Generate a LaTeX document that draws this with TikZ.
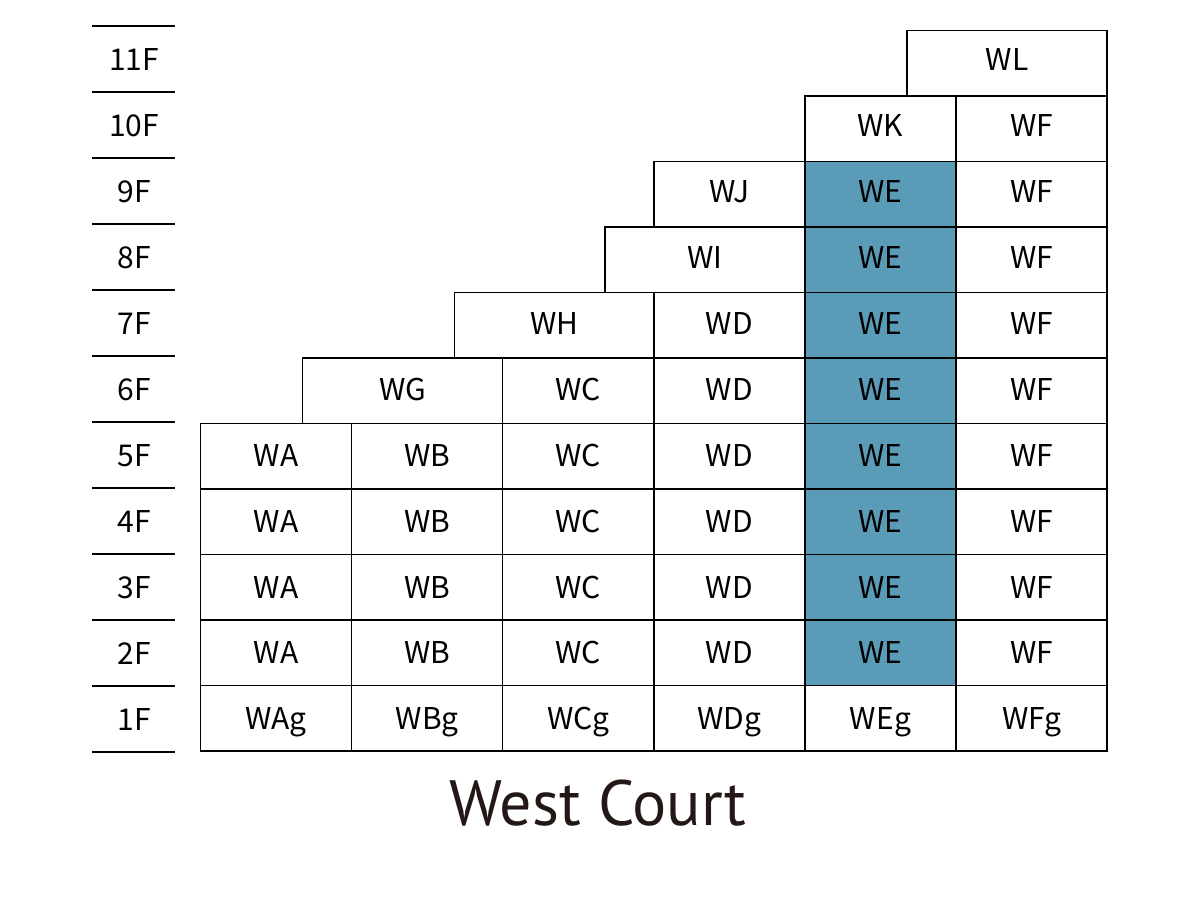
\documentclass[tikz,border=0pt]{standalone}
\usepackage{fontspec}
\usepackage{tikz}
\newfontfamily\cellfont{Noto Sans CJK JP}
\newfontfamily\titlefont{PT Sans}
\definecolor{weblue}{RGB}{90,155,184}
\definecolor{inkblack}{RGB}{35,24,21}

\tikzset{
	cell/.style={draw, line width=0.75pt, minimum width=75.55pt, minimum height=32.75pt,
		inner sep=0pt, text height=11pt, text depth=0pt, font=\cellfont\fontsize{15}{15}\selectfont},
	widecell/.style={cell, minimum width=100pt},
	wecell/.style={cell, fill=weblue},
	lift/.style={text depth=#1},
	floorlabel/.style={inner sep=0pt, text height=11pt, text depth=0pt, font=\cellfont\fontsize{15}{15}\selectfont},
	floorline/.style={line width=0.6pt},
}

\begin{document}
\begin{tikzpicture}[x=0.5pt, y=-0.5pt]
			\useasboundingbox (0,0) rectangle (1200,900);

			% floors
			\foreach \k in {0,...,11}
				\draw[floorline] (92,26+66*\k) -- (175,26+66*\k);
			\node[floorlabel] (f11) at (134,59) {11F};
			\node[floorlabel] (f10) at (134,125) {10F};
			\node[floorlabel] (f9) at (134,191) {9F};
			\node[floorlabel] (f8) at (134,257) {8F};
			\node[floorlabel] (f7) at (134,323) {7F};
			\node[floorlabel] (f6) at (134,389) {6F};
			\node[floorlabel] (f5) at (134,455) {5F};
			\node[floorlabel] (f4) at (134,521) {4F};
			\node[floorlabel] (f3) at (134,587) {3F};
			\node[floorlabel] (f2) at (134,653) {2F};
			\node[floorlabel] (f1) at (134,719) {1F};

			% upper floors
			\node[widecell, lift=4.25pt] (wl) at (1007,63.25) {WL};
			\node[cell, lift=3.75pt] (wk) at (880.45,128.75) {WK};
			\node[cell, lift=3.75pt] (wf10) at (1031.55,128.75) {WF};
			\node[cell, lift=3.25pt] (wj) at (729.35,194.25) {WJ};
			\node[wecell, lift=3.25pt] (we9) at (880.45,194.25) {WE};
			\node[cell, lift=3.25pt] (wf9) at (1031.55,194.25) {WF};
			\node[widecell, lift=2.75pt] (wi) at (705,259.75) {WI};
			\node[wecell, lift=2.75pt] (we8) at (880.45,259.75) {WE};
			\node[cell, lift=2.75pt] (wf8) at (1031.55,259.75) {WF};
			\node[widecell, lift=2.25pt] (wh) at (554.5,325.25) {WH};
			\node[cell, lift=2.25pt] (wd7) at (729.35,325.25) {WD};
			\node[wecell, lift=2.25pt] (we7) at (880.45,325.25) {WE};
			\node[cell, lift=2.25pt] (wf7) at (1031.55,325.25) {WF};
			\node[widecell, lift=1.75pt] (wg) at (402.5,390.75) {WG};
			\node[cell, lift=1.75pt] (wc6) at (578.25,390.75) {WC};
			\node[cell, lift=1.75pt] (wd6) at (729.35,390.75) {WD};
			\node[wecell, lift=1.75pt] (we6) at (880.45,390.75) {WE};
			\node[cell, lift=1.75pt] (wf6) at (1031.55,390.75) {WF};

			% 2F - 5F
			\foreach \f/\y/\d in {5/456.25/1.25pt, 4/521.75/0.75pt, 3/587.25/0pt, 2/652.75/0pt} {
				\node[cell, lift=\d] (wa\f) at (276.05,\y) {WA};
				\node[cell, lift=\d] (wb\f) at (427.15,\y) {WB};
				\node[cell, lift=\d] (wc\f) at (578.25,\y) {WC};
				\node[cell, lift=\d] (wd\f) at (729.35,\y) {WD};
				\node[wecell, lift=\d] (we\f) at (880.45,\y) {WE};
				\node[cell, lift=\d] (wf\f) at (1031.55,\y) {WF};
			}

			% 1F
			\node[cell] (wag) at (276.05,718.25) {WAg};
			\node[cell] (wbg) at (427.15,718.25) {WBg};
			\node[cell] (wcg) at (578.25,718.25) {WCg};
			\node[cell] (wdg) at (729.35,718.25) {WDg};
			\node[cell] (weg) at (880.45,718.25) {WEg};
			\node[cell] (wfg) at (1031.55,718.25) {WFg};

			\node[inner sep=0pt, text height=22.5pt, text depth=0pt, text=inkblack,
				font=\titlefont\fontsize{32}{32}\selectfont] (title) at (598,802.5) {West Court};
\end{tikzpicture}
\end{document}
